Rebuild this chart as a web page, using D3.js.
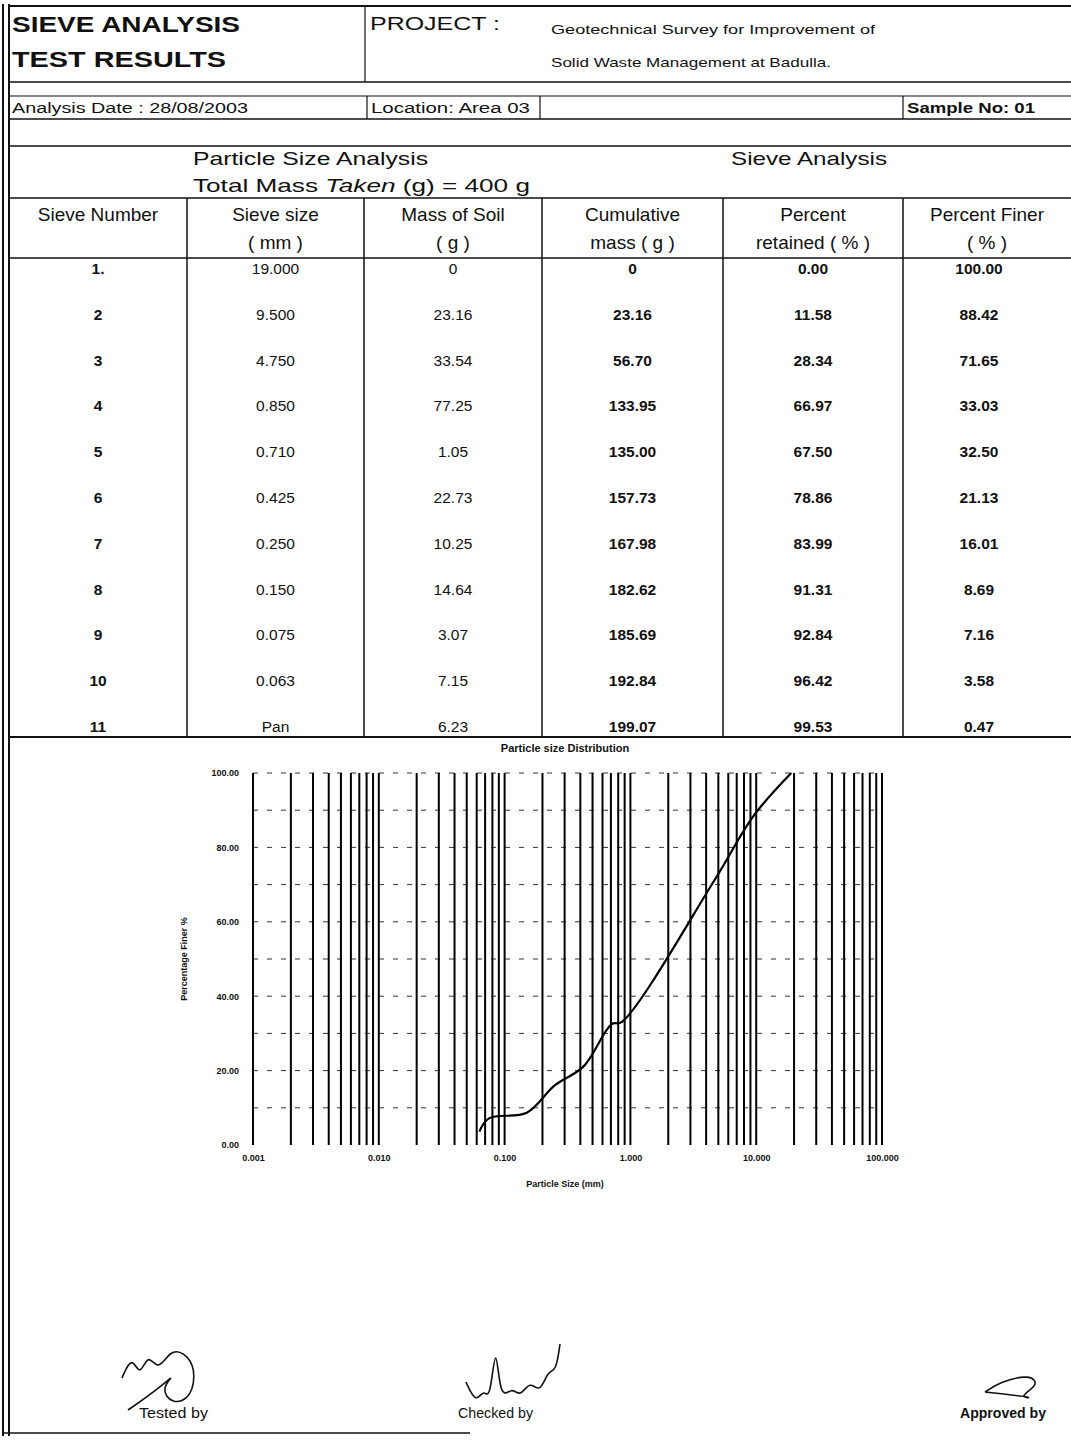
<!DOCTYPE html>
<html>
<head>
<meta charset="utf-8">
<script src="https://cdn.jsdelivr.net/npm/d3@7"></script>
<style>
  body { margin: 0; background: #fff; }
  svg text { font-family: "Liberation Sans", Arial, sans-serif; fill: #111; }
</style>
</head>
<body>
<div id="sheet"></div>
<script>
// Table values
const sieveNumbers = ["1.", "2", "3", "4", "5", "6", "7", "8", "9", "10", "11"];
const sieveSizes = ["19.000", "9.500", "4.750", "0.850", "0.710", "0.425", "0.250", "0.150", "0.075", "0.063", "Pan"];
const massOfSoil = ["0", "23.16", "33.54", "77.25", "1.05", "22.73", "10.25", "14.64", "3.07", "7.15", "6.23"];
const cumulativeMass = ["0", "23.16", "56.70", "133.95", "135.00", "157.73", "167.98", "182.62", "185.69", "192.84", "199.07"];
const percentRetained = ["0.00", "11.58", "28.34", "66.97", "67.50", "78.86", "83.99", "91.31", "92.84", "96.42", "99.53"];
const percentFiner = ["100.00", "88.42", "71.65", "33.03", "32.50", "21.13", "16.01", "8.69", "7.16", "3.58", "0.47"];

// chart axes
const xTickValues = [0.001, 0.01, 0.1, 1, 10, 100];
const xTickLabels = ["0.001", "0.010", "0.100", "1.000", "10.000", "100.000"];
const yTickValues = [0, 20, 40, 60, 80, 100];

const W = 1071, H = 1442;
const svg = d3.select("#sheet").append("svg")
  .attr("width", W).attr("height", H);

// ---- frame lines ----
function hline(y, x1, x2, w) {
  svg.append("line").attr("x1", x1).attr("x2", x2).attr("y1", y).attr("y2", y)
    .attr("stroke", "#111").attr("stroke-width", w || 1.5);
}
function vline(x, y1, y2, w) {
  svg.append("line").attr("x1", x).attr("x2", x).attr("y1", y1).attr("y2", y2)
    .attr("stroke", "#111").attr("stroke-width", w || 1.5);
}
function txt(s, x, y, size, opts) {
  opts = opts || {};
  const t = svg.append("text").attr("x", x).attr("y", y)
    .attr("font-size", size)
    .attr("font-weight", opts.bold ? "bold" : "normal")
    .attr("text-anchor", opts.anchor || "start")
    .text(s);
  if (opts.len) t.attr("textLength", opts.len).attr("lengthAdjust", "spacingAndGlyphs");
  if (opts.italic) t.attr("font-style", "italic");
  return t;
}

// left double border + bottom
vline(3, 4, 1436, 2);
vline(9, 4, 1436, 2);
hline(1433, 3, 470, 1.5);

// header block
hline(6, 9, 1071, 2);
hline(82, 9, 1071, 1.5);
vline(365, 6, 82, 1.2);
txt("SIEVE  ANALYSIS", 12, 32, 22, { bold: true, len: 228 });
txt("TEST  RESULTS", 12, 67, 22, { bold: true, len: 214 });
txt("PROJECT :", 370, 30, 18, { len: 130 });
txt("Geotechnical Survey for Improvement of", 551, 34, 13, { len: 324 });
txt("Solid Waste Management at Badulla.", 551, 67, 13, { len: 280 });

hline(96, 9, 1071, 1.2);
hline(119, 9, 1071, 1.5);
vline(367, 96, 119, 1.2);
vline(540, 96, 119, 1.2);
vline(903, 96, 119, 1.2);
txt("Analysis Date :  28/08/2003", 12, 113, 14, { len: 236 });
txt("Location: Area   03", 371, 113, 14, { len: 159 });
txt("Sample No: 01", 907, 113, 15, { bold: true, len: 128 });

// ---- table ----
hline(146, 9, 1071, 1.5);
txt("Particle  Size  Analysis", 193, 165, 19, { len: 235 });
const tm = svg.append("text").attr("x", 193).attr("y", 192).attr("font-size", 19)
  .attr("textLength", 337).attr("lengthAdjust", "spacingAndGlyphs");
tm.append("tspan").text("Total  Mass  ");
tm.append("tspan").attr("font-style", "italic").text("Taken");
tm.append("tspan").text("  (g)  =  400 g");
txt("Sieve  Analysis", 809, 165, 19, { anchor: "middle", len: 156 });

const colEdges = [9, 187, 364, 542, 723, 903, 1071];
const colMid = d3.range(6).map(i => (colEdges[i] + colEdges[i + 1]) / 2);
const headTop = 198, headBottom = 258, tableBottom = 737;
hline(headTop, 9, 1071, 1.5);
hline(headBottom, 9, 1071, 1.5);
hline(tableBottom, 9, 1071, 2);
colEdges.slice(1, -1).forEach(x => vline(x, headTop, tableBottom, 1.5));

const head1 = ["Sieve Number", "Sieve size", "Mass of Soil", "Cumulative", "Percent", "Percent Finer"];
const head2 = ["", "( mm )", "( g )", "mass  ( g )", "retained  ( % )", "( % )"];
head1.forEach((h, i) => txt(h, colMid[i], 221, 19, { anchor: "middle" }));
head2.forEach((h, i) => txt(h, colMid[i], 249, 19, { anchor: "middle" }));

const rowY = d3.scaleLinear().domain([0, 10]).range([274, 732]);
const columns = [sieveNumbers, sieveSizes, massOfSoil, cumulativeMass, percentRetained, percentFiner];
const colBold = [true, false, false, true, true, true];
columns.forEach((col, ci) => {
  svg.append("g").selectAll("text").data(col).join("text")
    .attr("x", colMid[ci] + (ci === 5 ? -8 : 0))
    .attr("y", (d, i) => rowY(i))
    .attr("text-anchor", "middle")
    .attr("font-size", 15.5)
    .attr("font-weight", colBold[ci] ? "bold" : "normal")
    .text(d => d);
});

// ---- particle size distribution chart ----
const plot = { left: 253, right: 882, top: 773, bottom: 1145 };
const x = d3.scaleLog().domain([0.001, 100]).range([plot.left, plot.right]);
const y = d3.scaleLinear().domain([0, 100]).range([plot.bottom, plot.top]);

txt("Particle size Distribution", 565, 752, 11, { anchor: "middle", bold: true });

const g = svg.append("g");

// dashed horizontal grid every 10 %
g.append("g").selectAll("line").data(d3.range(10, 101, 10)).join("line")
  .attr("x1", plot.left).attr("x2", plot.right)
  .attr("y1", d => y(d)).attr("y2", d => y(d))
  .attr("stroke", "#333").attr("stroke-width", 1)
  .attr("stroke-dasharray", "5,9");

// heavy vertical log grid (1..9 per decade)
const vGrid = [];
d3.range(-3, 2).forEach(e => d3.range(1, 10).forEach(k => vGrid.push(k * Math.pow(10, e))));
vGrid.push(100);
g.append("g").selectAll("line").data(vGrid).join("line")
  .attr("x1", d => x(d)).attr("x2", d => x(d))
  .attr("y1", plot.top).attr("y2", plot.bottom)
  .attr("stroke", "#000").attr("stroke-width", 2);

// axes
const xAxis = d3.axisBottom(x).tickValues(xTickValues)
  .tickFormat((d, i) => xTickLabels[i]).tickSize(0).tickPadding(10);
const gx = svg.append("g").attr("transform", `translate(0,${plot.bottom})`).call(xAxis);
gx.select(".domain").remove();
gx.selectAll("text").attr("font-size", 9).attr("font-weight", "bold").attr("fill", "#222");

const yAxis = d3.axisLeft(y).tickValues(yTickValues)
  .tickFormat(d3.format(".2f")).tickSize(0).tickPadding(14);
const gy = svg.append("g").attr("transform", `translate(${plot.left},0)`).call(yAxis);
gy.select(".domain").remove();
gy.selectAll("text").attr("font-size", 9).attr("font-weight", "bold").attr("fill", "#222");

txt("Particle Size (mm)", 565, 1187, 9, { anchor: "middle", bold: true });
svg.append("text")
  .attr("transform", `translate(187,${(plot.top + plot.bottom) / 2}) rotate(-90)`)
  .attr("text-anchor", "middle").attr("font-size", 9).attr("font-weight", "bold")
  .text("Percentage  Finer %");

// grading curve (Pan is not plotted)
const curvePts = sieveSizes
  .map((s, i) => ({ size: +s, finer: +percentFiner[i] }))
  .filter(d => !isNaN(d.size))
  .sort((a, b) => a.size - b.size);

const line = d3.line()
  .x(d => x(d.size))
  .y(d => y(d.finer))
  .curve(d3.curveCatmullRom.alpha(0.5));

svg.append("path").datum(curvePts)
  .attr("d", line)
  .attr("fill", "none")
  .attr("stroke", "#000")
  .attr("stroke-width", 2.2);

// ---- sign-off ----
txt("Tested by", 139, 1418, 15, { len: 69 });
txt("Checked by", 458, 1418, 15, { len: 75 });
txt("Approved by", 960, 1418, 15, { bold: true, len: 86 });

// rough ink marks where the signatures sit
const ink = d3.line().curve(d3.curveBasis);
const sigs = [
  [[122, 1378], [132, 1355], [140, 1378], [148, 1352], [158, 1372], [170, 1350], [184, 1352], [196, 1368], [192, 1398], [172, 1405], [160, 1388], [178, 1372], [150, 1395], [128, 1410]],
  [[466, 1382], [476, 1404], [484, 1388], [490, 1402], [496, 1336], [500, 1402], [512, 1386], [520, 1398], [530, 1380], [540, 1394], [548, 1370], [556, 1372], [560, 1344]],
  [[985, 1392], [1000, 1382], [1030, 1374], [1040, 1385], [1016, 1398], [1040, 1398], [985, 1392]]
];
svg.append("g").selectAll("path").data(sigs).join("path")
  .attr("d", d => ink(d))
  .attr("fill", "none").attr("stroke", "#111").attr("stroke-width", 1.6);
</script>
</body>
</html>
